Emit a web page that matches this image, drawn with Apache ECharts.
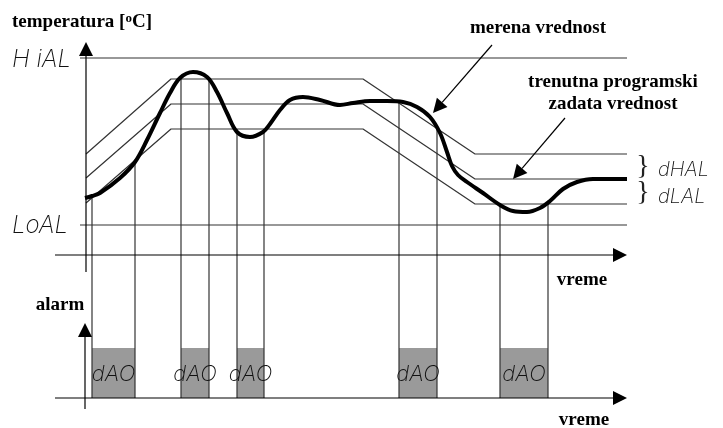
<!DOCTYPE html>
<html><head><meta charset="utf-8">
<script src="https://cdn.jsdelivr.net/npm/echarts@6/dist/echarts.min.js"></script>
<style>html,body{margin:0;padding:0;background:#fff}#c{width:723px;height:428px}</style>
</head><body><div id="c"></div>
<script>
// Diagram units: time 0 = temperature axis, temperature 0 = time axis, alarm 0 = alarm time axis
const hiAL = 197;
const loAL = 30;
const limitStart = -6, limitEnd = 541;
const spTime = [0, 85, 277, 389, 541];
const spHigh = [101, 176, 176, 101, 101];   // setpoint + dHAL
const spMid  = [77, 151, 151, 76, 76];      // current programmed setpoint
const spLow  = [52, 126, 126, 51, 51];      // setpoint - dLAL
const measTime = [-1, 6, 14, 34, 49, 61, 74, 84, 94, 107, 121, 131, 141, 151, 164, 177, 184, 194, 204, 217, 234, 254, 267, 284, 301, 317, 331, 344, 354, 361, 366, 372, 381, 397, 414, 427, 441, 454, 464, 477, 491, 507, 541];
const measTemp = [57, 59, 62, 77, 93, 115, 142, 162, 177, 183, 178, 163, 142, 123, 118, 123, 131, 145, 155, 158, 155, 150, 152, 154, 154, 153, 148, 138, 122, 103, 89, 80, 73, 62, 50, 44, 43, 47, 54, 66, 73, 76, 76];
const alarmStart = [6, 95, 151, 313, 414];
const alarmEnd   = [49, 123, 178, 351, 462];
const crossAtStart = [59, 176, 126, 154, 51];
const crossAtEnd   = [95, 176, 126, 130, 51];
const alarmOn = 50;
const alarmLabelLevel = 24;
const alarmLabel = 'dAO';
// axes & annotation arrows [x0, y0, x1(tip), y1(tip)]
const tempAxisArrows = [[0, -17, 0, 213], [-31, 0, 541, 0], [406, 210, 347, 142], [479, 137, 427, 76]];
const alarmAxisArrows = [[-1, -11, -1, 75], [-31, 0, 541, 0]];

const X_MIN = -86, X_MAX = 637, T_MIN = -173, T_MAX = 255, A_MIN = -30, A_MAX = 398;
const thin = { color: '#333', width: 1.2 };
const segFont = 'Inter';

const chart = echarts.init(document.getElementById('c'));

function seg(xs, ys) { return xs.map((x, i) => [x, ys[i]]); }

function arrowRender(headLen, headW, color, lw) {
  return function (params, api) {
    const p0 = api.coord([api.value(0), api.value(1)]);
    const p1 = api.coord([api.value(2), api.value(3)]);
    const dx = p1[0] - p0[0], dy = p1[1] - p0[1];
    const L = Math.sqrt(dx * dx + dy * dy);
    const ux = dx / L, uy = dy / L;
    const bx = p1[0] - ux * headLen, by = p1[1] - uy * headLen;
    return { type: 'group', children: [
      { type: 'line', shape: { x1: p0[0], y1: p0[1], x2: bx, y2: by }, style: { stroke: color, lineWidth: lw } },
      { type: 'polygon', shape: { points: [[p1[0], p1[1]], [bx - uy * headW / 2, by + ux * headW / 2], [bx + uy * headW / 2, by - ux * headW / 2]] }, style: { fill: color } }
    ] };
  };
}

function tempToPixel(v, api) {
  try {
    const r = chart.convertToPixel({ yAxisIndex: 0 }, v);
    if (typeof r === 'number' && isFinite(r)) return r;
  } catch (e) {}
  return (T_MAX - v) / (T_MAX - T_MIN) * api.getHeight();
}

const alarmData = alarmStart.map((s, i) => [s, alarmEnd[i], crossAtStart[i], crossAtEnd[i]]);

const lineSeries = (data, style, z) => ({ type: 'line', data, symbol: 'none', lineStyle: style, silent: true, z: z || 2, animation: false });

const option = {
  animation: false,
  backgroundColor: '#fff',
  grid: { left: 0, right: 0, top: 0, bottom: 0 },
  xAxis: { type: 'value', min: X_MIN, max: X_MAX, show: false },
  yAxis: [
    { type: 'value', min: T_MIN, max: T_MAX, show: false },
    { type: 'value', min: A_MIN, max: A_MAX, show: false }
  ],
  series: [
    lineSeries([[limitStart, hiAL], [limitEnd, hiAL]], thin),
    lineSeries([[limitStart, loAL], [limitEnd, loAL]], thin),
    lineSeries(seg(spTime, spHigh), thin),
    lineSeries(seg(spTime, spMid), thin),
    lineSeries(seg(spTime, spLow), thin),
    {
      type: 'custom', yAxisIndex: 1, data: alarmData, silent: true, z: 1,
      renderItem: function (params, api) {
        const t0 = api.value(0), t1 = api.value(1);
        const bl = api.coord([t0, 0]);
        const tr = api.coord([t1, alarmOn]);
        const ly = api.coord([t0, alarmLabelLevel])[1];
        const y0 = tempToPixel(api.value(2), api);
        const y1 = tempToPixel(api.value(3), api);
        return { type: 'group', children: [
          { type: 'rect', shape: { x: bl[0], y: tr[1], width: tr[0] - bl[0], height: bl[1] - tr[1] }, style: { fill: '#9a9a9a' } },
          { type: 'line', shape: { x1: bl[0], y1: y0, x2: bl[0], y2: bl[1] }, style: { stroke: '#333', lineWidth: 1.2 } },
          { type: 'line', shape: { x1: tr[0], y1: y1, x2: tr[0], y2: bl[1] }, style: { stroke: '#333', lineWidth: 1.2 } },
          { type: 'text', style: { text: alarmLabel, x: (bl[0] + tr[0]) / 2, y: ly, align: 'center', verticalAlign: 'middle', fontFamily: segFont, fontWeight: 200, fontStyle: 'italic', fontSize: 22, fill: '#111' } }
        ] };
      }
    },
    { type: 'custom', data: tempAxisArrows, silent: true, z: 3, renderItem: arrowRender(14, 14, '#000', 1.2) },
    { type: 'custom', yAxisIndex: 1, data: alarmAxisArrows, silent: true, z: 3, renderItem: arrowRender(14, 14, '#000', 1.2) },
    {
      type: 'line', data: seg(measTime, measTemp), symbol: 'none', smooth: 0.35, silent: true, z: 5,
      lineStyle: { color: '#000', width: 4 }
    }
  ],
  graphic: [
    { type: 'text', x: 12, y: 22, style: { text: '{a|temperatura [}{s|o}{a|C]}', verticalAlign: 'middle', rich: {
      a: { fontSize: 19, lineHeight: 20, fontWeight: 'bold', fontFamily: 'Liberation Serif', fill: '#000', verticalAlign: 'bottom', padding: [5, 0, 0, 0] },
      s: { fontSize: 13, lineHeight: 13, fontWeight: 'bold', fontFamily: 'Liberation Serif', fill: '#000', verticalAlign: 'top' } } } },
    { type: 'text', x: 12, y: 60, style: { text: 'H iAL', verticalAlign: 'middle', fontFamily: segFont, fontWeight: 200, fontStyle: 'italic', fontSize: 24, fill: '#111' } },
    { type: 'text', x: 12, y: 226, style: { text: 'LoAL', verticalAlign: 'middle', fontFamily: segFont, fontWeight: 200, fontStyle: 'italic', fontSize: 24, fill: '#111' } },
    { type: 'text', x: 538, y: 28, style: { text: 'merena vrednost', align: 'center', verticalAlign: 'middle', fontFamily: 'Liberation Serif', fontWeight: 'bold', fontSize: 19, fill: '#000' } },
    { type: 'text', x: 613, y: 82, style: { text: 'trenutna programski', align: 'center', verticalAlign: 'middle', fontFamily: 'Liberation Serif', fontWeight: 'bold', fontSize: 19, fill: '#000' } },
    { type: 'text', x: 613, y: 104, style: { text: 'zadata vrednost', align: 'center', verticalAlign: 'middle', fontFamily: 'Liberation Serif', fontWeight: 'bold', fontSize: 19, fill: '#000' } },
    { type: 'text', x: 582, y: 280, style: { text: 'vreme', align: 'center', verticalAlign: 'middle', fontFamily: 'Liberation Serif', fontWeight: 'bold', fontSize: 19, fill: '#000' } },
    { type: 'text', x: 584, y: 420, style: { text: 'vreme', align: 'center', verticalAlign: 'middle', fontFamily: 'Liberation Serif', fontWeight: 'bold', fontSize: 19, fill: '#000' } },
    { type: 'text', x: 60, y: 305, style: { text: 'alarm', align: 'center', verticalAlign: 'middle', fontFamily: 'Liberation Serif', fontWeight: 'bold', fontSize: 19, fill: '#000' } },
    { type: 'text', x: 643, y: 167, style: { text: '}', align: 'center', verticalAlign: 'middle', fontFamily: 'Liberation Serif', fontSize: 28, fill: '#222' } },
    { type: 'text', x: 643, y: 193, style: { text: '}', align: 'center', verticalAlign: 'middle', fontFamily: 'Liberation Serif', fontSize: 28, fill: '#222' } },
    { type: 'text', x: 658, y: 170, style: { text: 'dHAL', verticalAlign: 'middle', fontFamily: segFont, fontWeight: 200, fontStyle: 'italic', fontSize: 20, fill: '#111' } },
    { type: 'text', x: 658, y: 197, style: { text: 'dLAL', verticalAlign: 'middle', fontFamily: segFont, fontWeight: 200, fontStyle: 'italic', fontSize: 20, fill: '#111' } }
  ]
};
chart.setOption(option);
</script></body></html>
